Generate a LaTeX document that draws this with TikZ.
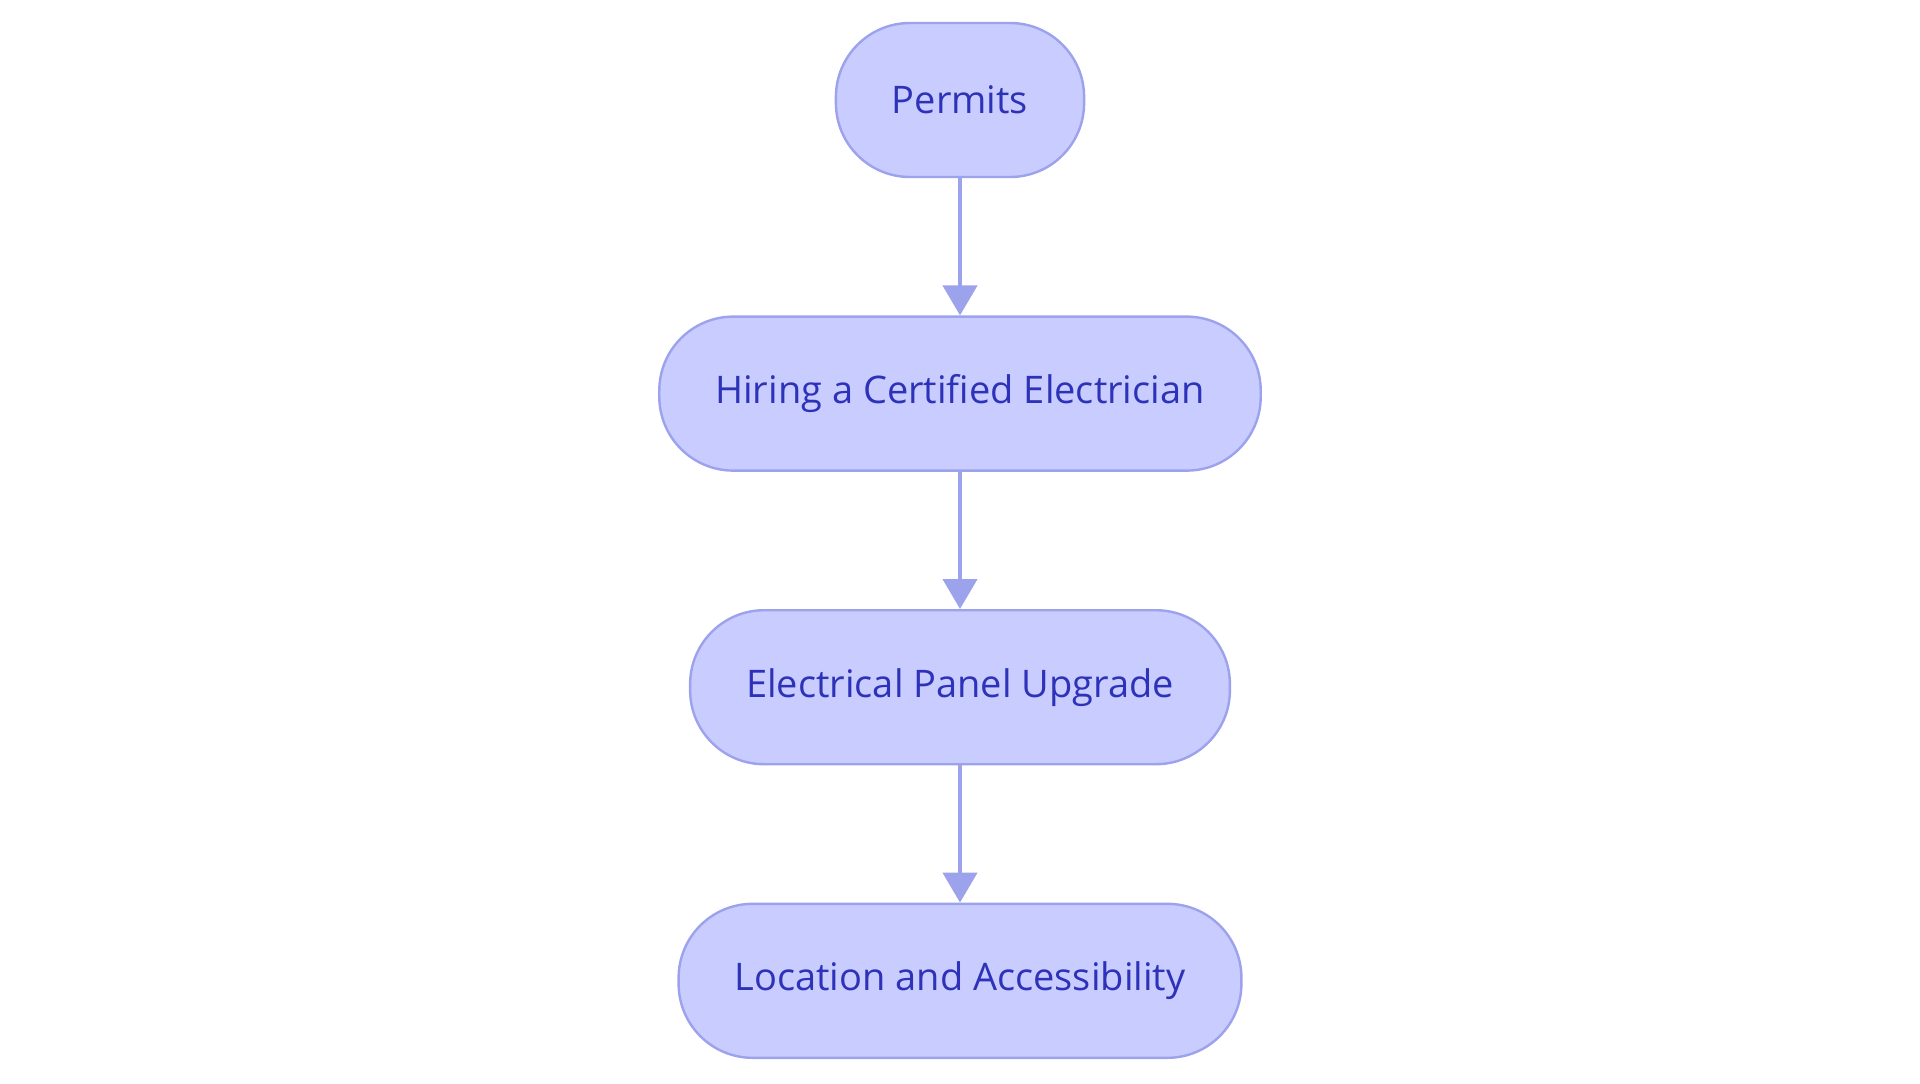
\documentclass[tikz,border=0pt]{standalone}
\usepackage{fontspec}
\setmainfont{Open Sans}
\usetikzlibrary{positioning,arrows.meta}
\definecolor{stepfill}{HTML}{C8CCFF}
\definecolor{stepline}{HTML}{9CA2EC}
\definecolor{steptext}{HTML}{2D32B8}
\tikzset{
  stepbox/.style={draw=stepline, fill=stepfill, line width=1.2pt, rounded corners=37pt,
    minimum height=77pt, inner xsep=28pt, text=steptext, font=\fontsize{19}{23}\selectfont},
  flow/.style={draw=stepline, line width=2.2pt, -{Triangle[width=17pt,length=15pt]}}
}
\begin{document}
\begin{tikzpicture}[x=0.5pt, y=-0.5pt, node distance=68.6pt]
\useasboundingbox (0,0) rectangle (1920,1083);
% steps, top to bottom
\node[stepbox] (permits) at (960,100) {Permits};
\node[stepbox, below=of permits] (hiring) {Hiring a Certified Electrician};
\node[stepbox, below=of hiring] (panel) {Electrical Panel Upgrade};
\node[stepbox, below=of panel] (location) {Location and Accessibility};
% connectors
\draw[flow] (permits) -- (hiring);
\draw[flow] (hiring) -- (panel);
\draw[flow] (panel) -- (location);
\end{tikzpicture}
\end{document}
